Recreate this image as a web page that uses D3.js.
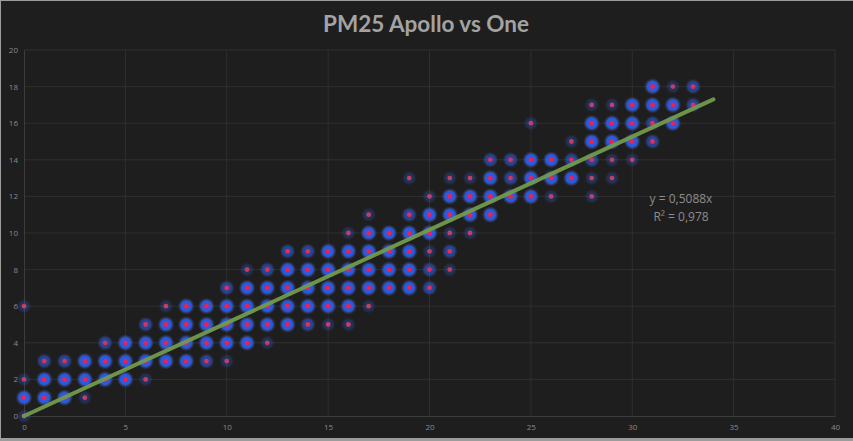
<!DOCTYPE html>
<html>
<head>
<meta charset="utf-8">
<script src="https://cdn.jsdelivr.net/npm/d3@7"></script>
<style>
  html, body { margin: 0; padding: 0; background: #1c1c1c; overflow: hidden; }
  svg { display: block; }
</style>
</head>
<body>
<div id="chart"></div>
<script>
// PM25 readings: One (y) against Apollo (x), one row per y level
var rowY = [0, 1, 2, 3, 4, 5, 6, 7, 8, 9, 10, 11, 12, 13, 14, 15, 16, 17, 18];
var rowX = [
  [0],
  [0, 1, 2, 3],
  [0, 1, 2, 3, 4, 5, 6],
  [1, 2, 3, 4, 5, 6, 7, 8, 9, 10],
  [4, 5, 6, 7, 8, 9, 10, 11, 12],
  [6, 7, 8, 9, 10, 11, 12, 13, 14, 15, 16],
  [0, 7, 8, 9, 10, 11, 12, 13, 14, 15, 16, 17],
  [10, 11, 12, 13, 14, 15, 16, 17, 18, 19, 20],
  [11, 12, 13, 14, 15, 16, 17, 18, 19, 20, 21],
  [13, 14, 15, 16, 17, 18, 19, 20, 21],
  [16, 17, 18, 19, 20, 21, 22],
  [17, 19, 20, 21, 22, 23],
  [20, 21, 22, 23, 24, 25, 26, 28],
  [19, 21, 22, 23, 24, 25, 26, 27, 28, 29],
  [23, 24, 25, 26, 27, 28, 29, 30],
  [27, 28, 29, 30, 31],
  [25, 28, 29, 30, 31, 32],
  [28, 29, 30, 31, 32, 33],
  [31, 32, 33]
];
// how many readings overlap at each point (1 = few, 3 = many)
var rowW = [
  [1],
  [3, 3, 3, 1],
  [1, 3, 3, 3, 3, 3, 1],
  [2, 2, 3, 3, 3, 3, 3, 3, 2, 1],
  [2, 3, 3, 3, 3, 3, 3, 3, 1],
  [2, 3, 3, 3, 3, 3, 3, 3, 2, 1, 1],
  [1, 1, 3, 3, 3, 3, 3, 3, 3, 3, 3, 1],
  [2, 3, 3, 3, 3, 3, 3, 3, 3, 3, 2],
  [1, 2, 3, 3, 3, 3, 3, 3, 3, 2, 1],
  [2, 2, 3, 3, 3, 3, 3, 1, 2],
  [1, 3, 3, 3, 3, 1, 1],
  [1, 2, 3, 3, 3, 3],
  [1, 3, 3, 3, 3, 3, 1, 1],
  [1, 1, 1, 3, 2, 3, 3, 3, 1, 1],
  [2, 2, 3, 3, 2, 2, 1, 1],
  [1, 3, 3, 3, 2],
  [1, 3, 3, 3, 2, 3],
  [1, 1, 3, 3, 3, 2],
  [3, 1, 2]
];
var xTicks = [0, 5, 10, 15, 20, 25, 30, 35, 40];
var yTicks = [0, 2, 4, 6, 8, 10, 12, 14, 16, 18, 20];
var slope = 0.5088;
var rSquared = "0,978";
var trendEndX = 34;
var title = "PM25 Apollo vs One";

var width = 853, height = 441;
var margin = {top: 50, right: 18, bottom: 25, left: 24};

var svg = d3.select("#chart").append("svg")
  .attr("width", width)
  .attr("height", height);

// chart frame
svg.append("rect").attr("width", width).attr("height", height).attr("fill", "#9c9c9c");
svg.append("rect").attr("x", 1).attr("y", 1).attr("width", width - 1).attr("height", 437).attr("fill", "#1e1e1e");

var x = d3.scaleLinear().domain([0, 40]).range([margin.left, width - margin.right]);
var y = d3.scaleLinear().domain([0, 20]).range([416, margin.top]);

svg.append("text")
  .attr("x", 426)
  .attr("y", 32)
  .attr("text-anchor", "middle")
  .attr("font-family", "Lato, 'Open Sans', sans-serif")
  .attr("font-weight", "bold")
  .attr("font-size", 22.5)
  .attr("fill", "#a3a3a3")
  .text(title);

// gridlines
var grid = svg.append("g");
grid.selectAll(".gx").data(xTicks.slice(1)).enter().append("line")
  .attr("x1", function(d) { return x(d); })
  .attr("x2", function(d) { return x(d); })
  .attr("y1", y(0)).attr("y2", y(20))
  .attr("stroke", "#2f2f2f").attr("stroke-width", 1);
grid.selectAll(".gy").data(yTicks.slice(1)).enter().append("line")
  .attr("x1", x(0)).attr("x2", x(40))
  .attr("y1", function(d) { return y(d); })
  .attr("y2", function(d) { return y(d); })
  .attr("stroke", "#2f2f2f").attr("stroke-width", 1);

// axes
var xAxis = d3.axisBottom(x).tickValues(xTicks).tickSize(0).tickPadding(8);
var yAxis = d3.axisLeft(y).tickValues(yTicks).tickSize(0).tickPadding(6);

var gx = svg.append("g").attr("transform", "translate(0," + y(0) + ")").call(xAxis);
var gy = svg.append("g").attr("transform", "translate(" + x(0) + ",0)").call(yAxis);
[gx, gy].forEach(function(g) {
  g.select(".domain").attr("stroke", "#3c3c3c");
  g.selectAll("text")
    .attr("fill", "#8a8a8a")
    .attr("font-family", "'Open Sans', sans-serif")
    .attr("font-size", 8);
});

// marker gradient: blue disc with a soft outer glow
var defs = svg.append("defs");
var glow = defs.append("radialGradient").attr("id", "glow");
glow.append("stop").attr("offset", "0%").attr("stop-color", "#2c62f0").attr("stop-opacity", 1);
glow.append("stop").attr("offset", "60%").attr("stop-color", "#2a5ce6").attr("stop-opacity", 1);
glow.append("stop").attr("offset", "78%").attr("stop-color", "#3d58b0").attr("stop-opacity", 0.5);
glow.append("stop").attr("offset", "100%").attr("stop-color", "#404a80").attr("stop-opacity", 0);

var points = [];
rowY.forEach(function(yy, i) {
  rowX[i].forEach(function(xx, j) {
    points.push({x: xx, y: yy, w: rowW[i][j]});
  });
});

var haloOpacity = {1: 0.3, 2: 0.6, 3: 0.95};
var haloRadius = {1: 7.5, 2: 8, 3: 8.5};
var dotColor = {1: "#c0405e", 2: "#dc3058", 3: "#ee2050"};

var marks = svg.append("g");
marks.selectAll(".halo").data(points).enter().append("circle")
  .attr("cx", function(d) { return x(d.x); })
  .attr("cy", function(d) { return y(d.y); })
  .attr("r", function(d) { return haloRadius[d.w]; })
  .attr("fill", "url(#glow)")
  .attr("opacity", function(d) { return haloOpacity[d.w]; });
marks.selectAll(".dot").data(points).enter().append("circle")
  .attr("cx", function(d) { return x(d.x); })
  .attr("cy", function(d) { return y(d.y); })
  .attr("r", 2.4)
  .attr("fill", function(d) { return dotColor[d.w]; });

// linear trendline through origin
svg.append("line")
  .attr("x1", x(0)).attr("y1", y(0))
  .attr("x2", x(trendEndX)).attr("y2", y(trendEndX * slope))
  .attr("stroke", "#729a4e")
  .attr("stroke-width", 4)
  .attr("stroke-linecap", "round")
  .attr("opacity", 0.95);

var eq = svg.append("text")
  .attr("text-anchor", "middle")
  .attr("font-family", "'Open Sans', sans-serif")
  .attr("font-size", 12)
  .attr("fill", "#8c8c8c");
eq.append("tspan").attr("x", 681).attr("y", 203).text("y = " + String(slope).replace(".", ",") + "x");
eq.append("tspan").attr("x", 681).attr("y", 221).text("R² = " + rSquared);
</script>
</body>
</html>
